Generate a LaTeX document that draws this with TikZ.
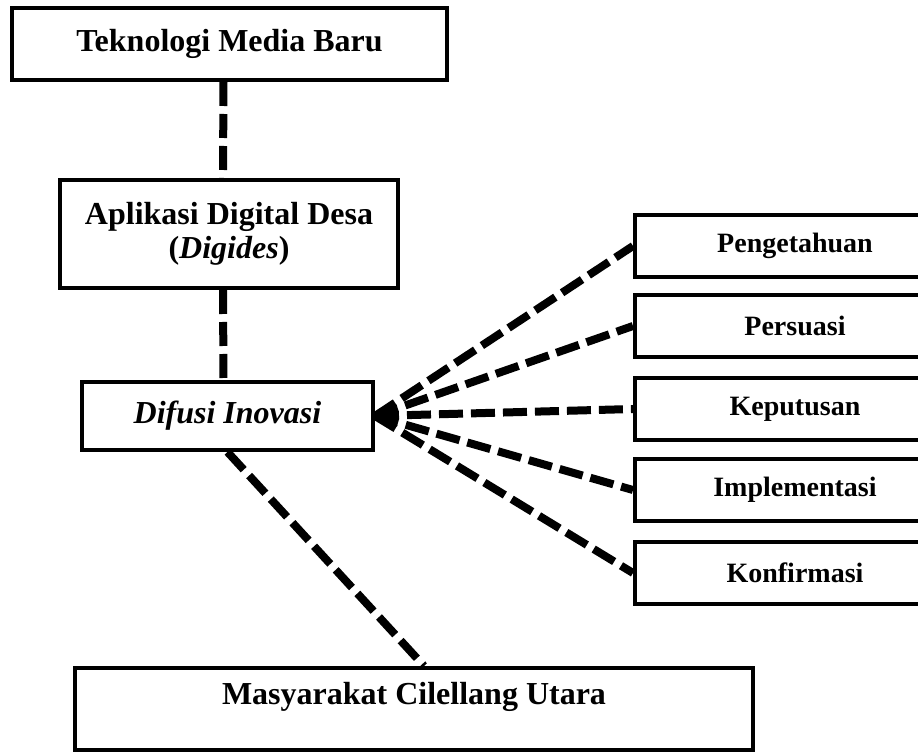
\documentclass[tikz,border=0pt]{standalone}
\usepackage{fontspec}
\setmainfont{Liberation Serif}
\begin{document}
\begin{tikzpicture}[x=0.5pt, y=-0.5pt,
    kotak/.style={draw, line width=2pt, rectangle, inner sep=0pt, align=center,
      font=\bfseries\fontsize{16}{17}\selectfont},
    tahap/.style={draw, line width=2pt, rectangle, inner sep=0pt,
      minimum width=160pt, minimum height=31pt, font=\bfseries\fontsize{14}{16}\selectfont},
    garis/.style={line width=4pt, dash pattern=on 12pt off 4pt}]
  \useasboundingbox (0,0) rectangle (918,754);

  % 中央の列のボックス
  \node[kotak, minimum width=217.5pt, minimum height=36pt] (tek) at (229.5,44) {Teknologi Media Baru};
  \node[kotak, minimum width=169pt, minimum height=54pt] (apl) at (229,234) {Aplikasi Digital Desa\\(\textit{Digides})};
  \node[kotak, minimum width=145.5pt, minimum height=34pt] (dif) at (227.5,416) {\textit{Difusi Inovasi}};
  \node[kotak, minimum width=339pt, minimum height=41pt] (mas) at (414,709)
    {\raisebox{6pt}[\height][\depth]{Masyarakat Cilellang Utara}};

  % 縦の破線
  \draw[garis] ([xshift=-3pt]tek.south) -- ([xshift=-3pt]apl.north);
  \draw[garis] ([xshift=-3pt]apl.south) -- ([xshift=-2pt]dif.north);
  \draw[garis] (dif.south) -- ([xshift=5pt]mas.north);

  % 右側の段階と放射状の破線
  \foreach \nm/\yy/\txt in {pen/246/Pengetahuan, per/326/Persuasi, kep/409/Keputusan,
                            imp/490/Implementasi, kon/573/Konfirmasi} {
    \node[tahap] (\nm) at (795,\yy) {\txt};
    \draw[garis] (dif.east) -- (\nm.west);
  }
\end{tikzpicture}
\end{document}
